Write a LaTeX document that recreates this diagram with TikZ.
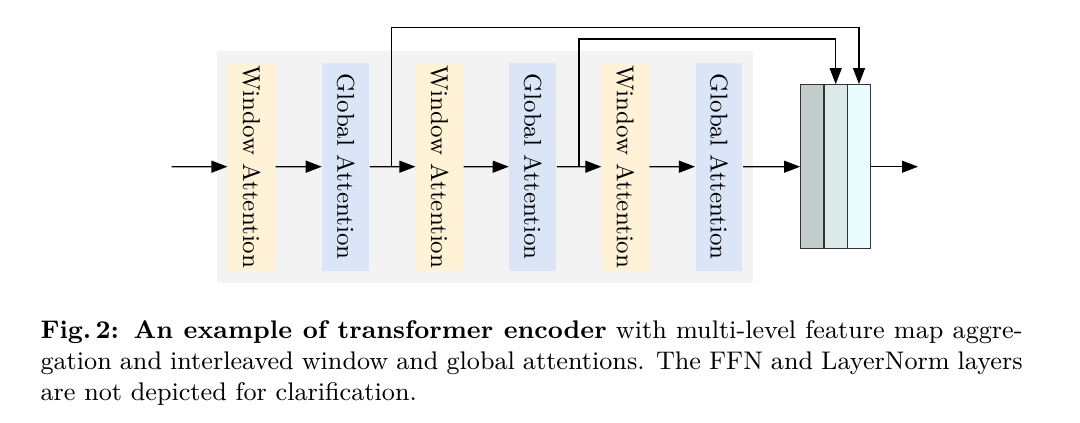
\documentclass[tikz,border=0pt]{standalone}
\usepackage{fontspec}
\usetikzlibrary{arrows.meta}
\definecolor{winc}{HTML}{FFF2D6}
\definecolor{gloc}{HTML}{DAE6F8}
\definecolor{bgc}{HTML}{F3F3F3}
\definecolor{sa}{HTML}{C2CCCB}
\definecolor{sb}{HTML}{DCE9E9}
\definecolor{sc}{HTML}{EAFDFE}
\definecolor{lnc}{HTML}{333333}
\begin{document}
\begin{tikzpicture}[x=1pt,y=-1pt,
  attbox/.style={scale=2.83, transform shape, rotate=-90, text width=73.5pt, align=center,
     minimum height=16.6pt, inner sep=0pt, font=\fontsize{8.6}{10}\selectfont},
  winbox/.style={attbox, fill=winc},
  globox/.style={attbox, fill=gloc},
  stk/.style={draw=lnc, line width=1.2pt, minimum width=23.4pt, minimum height=164pt, inner sep=0pt},
  arr/.style={line width=1.2pt, -{Triangle[length=16pt,width=12pt]}},
  captxt/.style={scale=2.83, transform shape, anchor=north west, inner sep=0pt, text width=347pt, align=justify,
     font=\fontsize{9}{11}\selectfont}]
\useasboundingbox (0,0) rectangle (1080,423);
\fill[bgc] (217,50.5) rectangle (753,283);
\node[winbox] (w1) at (251.5,166.7) {Window Attention};
\node[globox] (g1) at (345.8,166.7) {Global Attention};
\node[winbox] (w2) at (439.5,166.7) {Window Attention};
\node[globox] (g2) at (532.8,166.7) {Global Attention};
\node[winbox] (w3) at (625.4,166.7) {Window Attention};
\node[globox] (g3) at (719,166.7) {Global Attention};
\node[stk, fill=sa] (s1) at (812.4,166.7) {};
\node[stk, fill=sb] (s2) at (835.7,166.7) {};
\node[stk, fill=sc] (s3) at (859,166.7) {};
\coordinate (in) at (171.7,166.7);
\coordinate (out) at (918,166.7);
\coordinate (b1) at (391.7,166.7);
\coordinate (t1) at (391.7,27.3);
\coordinate (b2) at (579,166.7);
\coordinate (t2) at (579,39);
\draw[arr] (in) -- (w1);
\draw[arr] (w1) -- (g1);
\draw[arr] (g1) -- (w2);
\draw[arr] (w2) -- (g2);
\draw[arr] (g2) -- (w3);
\draw[arr] (w3) -- (g3);
\draw[arr] (g3) -- (s1.west);
\draw[arr] (s3.east) -- (out);
\draw[arr] (b1) -- (t1) -| (s3.north);
\draw[arr] (b2) -- (t2) -| (s2.north);
\node[captxt] (cap) at (40,320)
  {\textbf{Fig.\,2: An example of transformer encoder} with multi-level feature map aggre-\linebreak gation and interleaved window and global attentions. The FFN and LayerNorm layers\linebreak are not depicted for clarification.};
\end{tikzpicture}
\end{document}
